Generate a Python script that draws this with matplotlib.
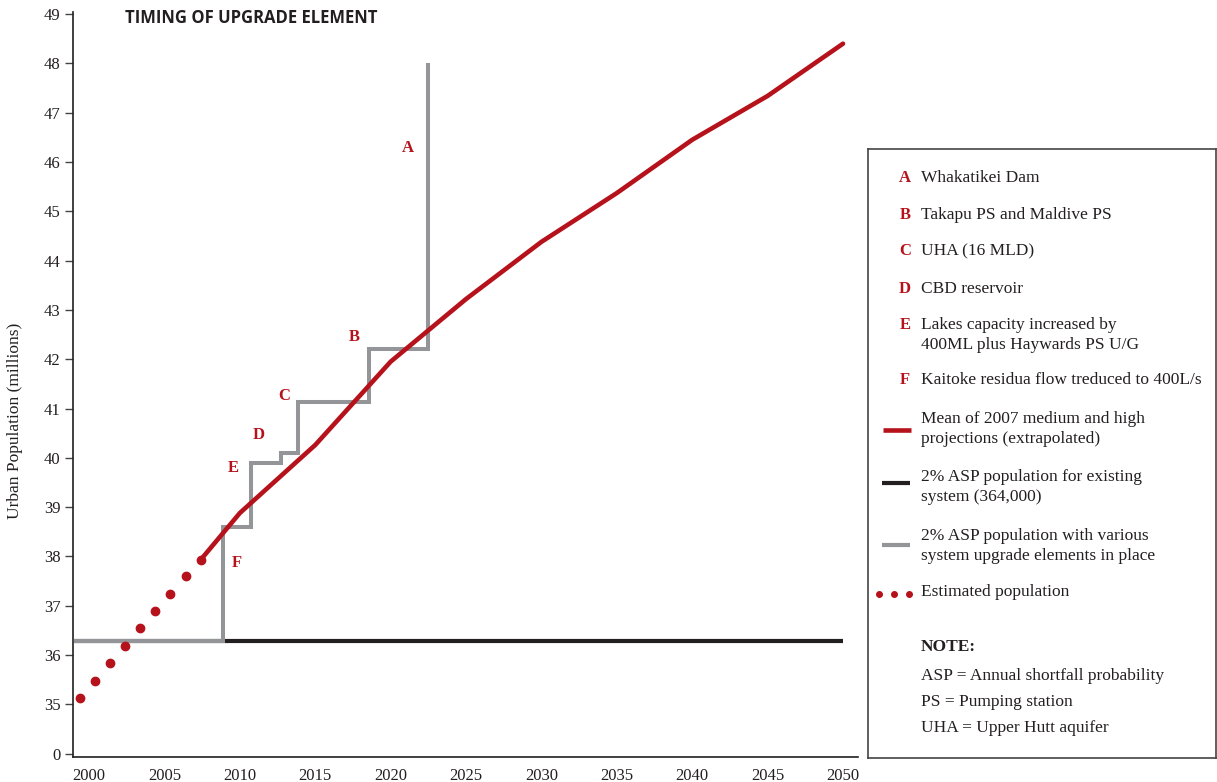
import numpy as np
import matplotlib
matplotlib.use("Agg")
import matplotlib.pyplot as plt

# data
est_years = [1999.4, 2000.4, 2001.4, 2002.4, 2003.4, 2004.4, 2005.4, 2006.4]
est_pop = [35.13, 35.48, 35.83, 36.18, 36.54, 36.89, 37.24, 37.60]

proj_years = [2007.4, 2010, 2015, 2020, 2025, 2030, 2035, 2040, 2045, 2050]
proj_pop = [37.93, 38.88, 40.26, 41.95, 43.22, 44.38, 45.37, 46.45, 47.34, 48.40]

existing_years = [1999, 2050]
existing_pop = [36.29, 36.29]

# step line: year each upgrade comes in and the level it lifts to
step_years = [1999, 2008.86, 2010.74, 2012.73, 2013.88, 2018.59, 2022.5]
step_levels = [36.29, 38.60, 39.90, 40.10, 41.14, 42.21, 48.0]

letters = ["A", "B", "C", "D", "E", "F"]
letter_pos = [(2021.15, 46.28), (2017.57, 42.45), (2012.93, 41.25),
              (2011.27, 40.46), (2009.55, 39.79), (2009.81, 37.87)]

ytick_pos = list(range(34, 50))
ytick_labels = ["0"] + [str(v) for v in range(35, 50)]
xticks = list(range(2000, 2051, 5))

legend_items = [
    "Whakatikei Dam",
    "Takapu PS and Maldive PS",
    "UHA (16 MLD)",
    "CBD reservoir",
    "Lakes capacity increased by\n400ML plus Haywards PS U/G",
    "Kaitoke residua flow treduced to 400L/s",
]

RED = "#b5121b"
GRAY = "#939598"
BLACK = "#231f20"
TXT = "#231f20"
SERIF = "Liberation Serif"
FS = 12.5
LS = 1.35

W, H = 1217, 782
fig = plt.figure(figsize=(W / 100, H / 100), dpi=100)
plt.rcParams["font.family"] = SERIF

x0, x1 = 1998.95, 2051.0
y0, y1 = 33.94, 49.04
ax = fig.add_axes([73.2 / W, 1 - 756.6 / H, (858.1 - 73.2) / W, (756.6 - 12.1) / H])
ax.set_xlim(x0, x1)
ax.set_ylim(y0, y1)

# step line built from the upgrade levels
sx, sy = [step_years[0]], [step_levels[0]]
for i in range(1, len(step_years)):
    sx += [step_years[i], step_years[i]]
    sy += [step_levels[i - 1], step_levels[i]]

ax.plot(existing_years, existing_pop, color=BLACK, lw=3.0, solid_capstyle="butt", zorder=2)
ax.plot(sx, sy, color=GRAY, lw=2.9, solid_joinstyle="miter", solid_capstyle="butt", zorder=3)
ax.plot(proj_years, proj_pop, color=RED, lw=3.3, solid_capstyle="round", zorder=4)
ax.plot(proj_years[0], proj_pop[0], "o", color=RED, ms=6, zorder=4)
ax.plot(est_years, est_pop, "o", color=RED, ms=6, ls="none", zorder=4)

for lab, (lx, ly) in zip(letters, letter_pos):
    ax.text(lx, ly, lab, color=RED, fontsize=12, fontweight="bold", ha="center", va="center")

ax.set_yticks(ytick_pos)
ax.set_yticklabels(ytick_labels)
ax.set_xticks(xticks)
ax.tick_params(axis="y", direction="out", length=6, width=1, colors="#444444", labelsize=12, pad=3)
ax.tick_params(axis="x", length=0, labelsize=12, colors="#444444", pad=8)
for lbl in ax.get_yticklabels() + ax.get_xticklabels():
    lbl.set_color(TXT)
ax.spines["top"].set_visible(False)
ax.spines["right"].set_visible(False)
ax.spines["left"].set_color(BLACK)
ax.spines["bottom"].set_color(BLACK)
ax.spines["left"].set_linewidth(1.2)
ax.spines["bottom"].set_linewidth(1.2)

fig.text(15 / W, 1 - 421 / H, "Urban Population (millions)", rotation=90, ha="center",
         va="center", fontsize=FS, color=TXT)
fig.text(125 / W, 1 - 18 / H, "TIMING OF UPGRADE ELEMENT", fontfamily="Open Sans",
         fontweight="bold", fontsize=12, ha="left", va="center", color=TXT)

# legend box drawn in pixel coordinates
lax = fig.add_axes([868 / W, 1 - 758 / H, (1216 - 868) / W, (758 - 149) / H])
lax.set_xlim(868, 1216)
lax.set_ylim(758, 149)
lax.set_xticks([])
lax.set_yticks([])
for s in lax.spines.values():
    s.set_color("#444444")
    s.set_linewidth(1.2)

row_y = [178, 215, 251, 289, 335, 380]
for lab, txt, yy in zip(letters, legend_items, row_y):
    lab_y = yy - 10 if "\n" in txt else yy
    lax.text(905, lab_y, lab, color=RED, fontsize=12, fontweight="bold", ha="center", va="center")
    lax.text(921, yy, txt, color=TXT, fontsize=FS, ha="left", va="center", linespacing=LS)

lax.plot([883, 911], [430, 430], color=RED, lw=3.3, solid_capstyle="butt")
lax.text(921, 429, "Mean of 2007 medium and high\nprojections (extrapolated)", color=TXT,
         fontsize=FS, ha="left", va="center", linespacing=LS)
lax.plot([882, 910], [483, 483], color=BLACK, lw=3.0, solid_capstyle="butt")
lax.text(921, 487, "2% ASP population for existing\nsystem (364,000)", color=TXT,
         fontsize=FS, ha="left", va="center", linespacing=LS)
lax.plot([882, 910], [545, 545], color=GRAY, lw=3.0, solid_capstyle="butt")
lax.text(921, 546, "2% ASP population with various\nsystem upgrade elements in place", color=TXT,
         fontsize=FS, ha="left", va="center", linespacing=LS)
lax.plot([879, 894, 909], [594, 594, 594], "o", color=RED, ms=4)
lax.text(921, 592, "Estimated population", color=TXT, fontsize=FS, ha="left", va="center")

lax.text(921, 647, "NOTE:", color=TXT, fontsize=FS, fontweight="bold", ha="left", va="center")
for txt, yy in zip(["ASP = Annual shortfall probability", "PS = Pumping station",
                    "UHA = Upper Hutt aquifer"], [676, 702, 728]):
    lax.text(921, yy, txt, color=TXT, fontsize=FS, ha="left", va="center")

fig.savefig("out.png", dpi=100)
